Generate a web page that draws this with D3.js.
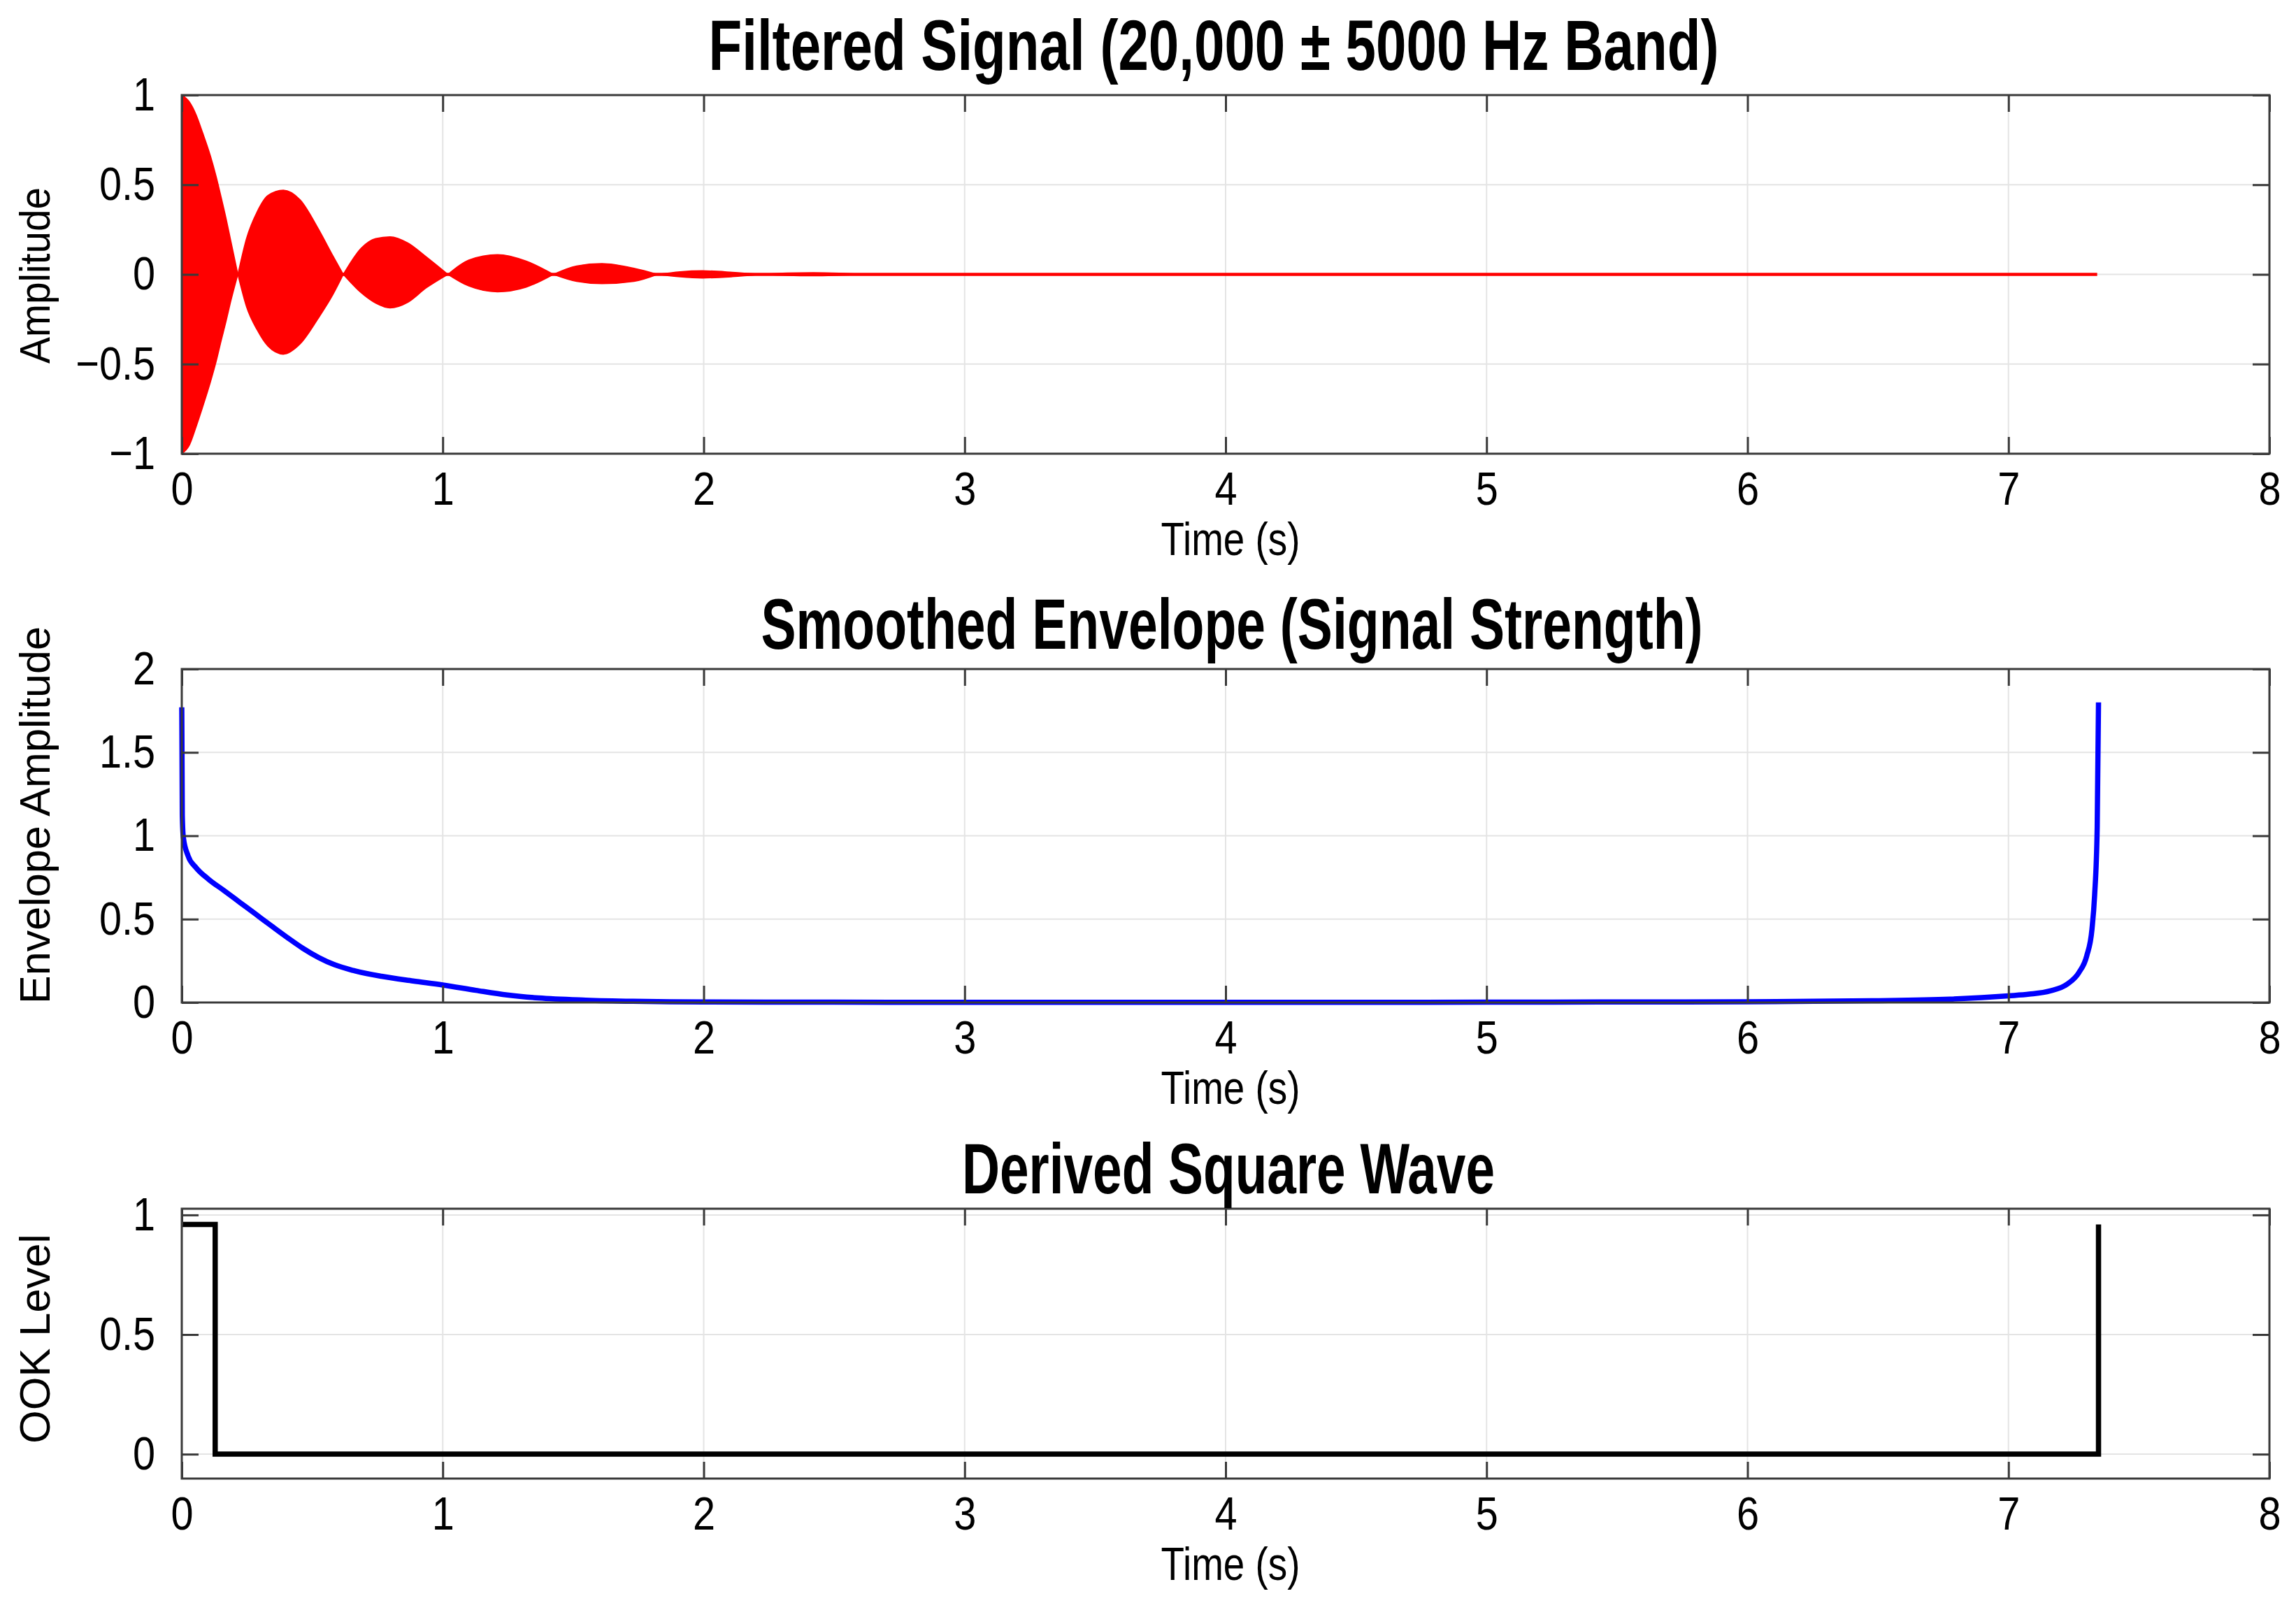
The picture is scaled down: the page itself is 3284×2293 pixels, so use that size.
<!DOCTYPE html>
<html><head><meta charset="utf-8">
<script src="https://cdn.jsdelivr.net/npm/d3@7"></script>
<style>
body{margin:0;background:#fff}
svg{display:block}
text{font-family:"Liberation Sans",Arial,Helvetica,sans-serif;fill:#000}
</style>
</head><body>
<svg id="c" width="3284" height="2293"></svg>
<script>
// ---------------- data ----------------
const xTicks = [0,1,2,3,4,5,6,7,8];
const sigYTicks = [-1,-0.5,0,0.5,1];
const envYTicks = [0,0.5,1,1.5,2];
const ookYTicks = [0,0.5,1];

// Filtered signal: upper / lower envelope of the dense 20 kHz oscillation
const sigT = [0,0.03,0.055,0.08,0.11,0.131,0.151,0.17,0.186,0.215,0.248,0.289,0.33,0.389,0.454,0.523,0.578,0.619,0.688,0.743,0.798,0.867,0.935,1.02,1.1,1.21,1.32,1.424,1.513,1.61,1.733,1.823,1.91,1.995,2.11,2.22,2.32,2.42,2.52,2.62];
const sigUpper = [1.0,0.96,0.89,0.79,0.66,0.55,0.43,0.31,0.2,0,0.2,0.35,0.44,0.47,0.415,0.255,0.107,0,0.147,0.2,0.21,0.175,0.1,0,0.08,0.11,0.074,0,0.047,0.06,0.034,0,0.015,0.02,0.012,0,0.008,0.01,0.007,0];
const sigLower = [-1.0,-0.95,-0.85,-0.74,-0.6,-0.49,-0.37,-0.26,-0.16,0,-0.18,-0.31,-0.4,-0.445,-0.387,-0.245,-0.116,0,-0.103,-0.16,-0.187,-0.155,-0.077,0,-0.065,-0.097,-0.071,0,-0.039,-0.052,-0.039,0,-0.014,-0.02,-0.013,0,-0.006,-0.008,-0.005,0];
const sigBaseT = [0,7.34];
const sigBaseV = [0,0];

// Smoothed envelope
const envT = [0,0.002,0.006,0.024,0.054,0.102,0.163,0.223,0.283,0.343,0.404,0.464,0.524,0.584,0.657,0.765,0.886,1.0,1.127,1.247,1.367,1.548,1.729,1.87,2.0,2.5,3.0,3.5,4.0,4.5,5.0,5.5,6.0,6.475,6.775,7.0,7.08,7.16,7.225,7.27,7.30,7.32,7.33,7.34,7.345];
const envV = [1.77,1.12,0.99,0.88,0.81,0.74,0.67,0.6,0.53,0.46,0.39,0.325,0.27,0.227,0.192,0.157,0.129,0.105,0.073,0.045,0.027,0.014,0.007,0.004,0.003,0.002,0.001,0.001,0.001,0.001,0.002,0.003,0.004,0.01,0.02,0.04,0.05,0.07,0.11,0.18,0.28,0.44,0.64,1.05,1.8];

// Derived square wave (step after)
const sqT = [0,0.128,7.345];
const sqV = [0.96,0,0.96];

// ---------------- layout ----------------
const svg = d3.select("#c");
const X0 = 260, X1 = 3246;
const x = d3.scaleLinear().domain([0,8]).range([X0,X1]);

const panels = [
  {top:136, bottom:649, dom:[-1,1], ticks:sigYTicks, title:"Filtered Signal (20,000 ± 5000 Hz Band)", tx:1736, ty:100, tw:1445,
   ylab:"Amplitude", ylc:394, ylw:252},
  {top:957, bottom:1434, dom:[0,2], ticks:envYTicks, title:"Smoothed Envelope (Signal Strength)", tx:1762, ty:928, tw:1347,
   ylab:"Envelope Amplitude", ylc:1166, ylw:540},
  {top:1729, bottom:2115, dom:[-0.102,1.026], ticks:ookYTicks, title:"Derived Square Wave", tx:1757, ty:1707, tw:762,
   ylab:"OOK Level", ylc:1915, ylw:300}
];

const BOX = "#3a3a3a", GRID = "#e4e4e4";

function condense(sel, f){
  sel.each(function(){
    const w = this.getComputedTextLength();
    d3.select(this).attr("textLength", w*f).attr("lengthAdjust","spacingAndGlyphs");
  });
}

panels.forEach((p,i)=>{
  const y = d3.scaleLinear().domain(p.dom).range([p.bottom,p.top]);
  p.y = y;
  const g = svg.append("g");
  // grid
  g.append("g").selectAll("line").data(xTicks).join("line")
    .attr("x1",d=>x(d)).attr("x2",d=>x(d)).attr("y1",p.top).attr("y2",p.bottom)
    .attr("stroke",GRID).attr("stroke-width",2);
  g.append("g").selectAll("line").data(p.ticks).join("line")
    .attr("x1",X0).attr("x2",X1).attr("y1",d=>y(d)).attr("y2",d=>y(d))
    .attr("stroke",GRID).attr("stroke-width",2);
  p.g = g;
});

// ---- panel 1: filtered signal ----
{
  const p = panels[0], y = p.y;
  const pts = sigT.map((t,i)=>({t, u:sigUpper[i], l:sigLower[i]}));
  // split into lobes at the zero nodes
  const segs = [];
  let s = 0;
  for (let i=1;i<pts.length;i++){
    if (pts[i].u===0 && pts[i].l===0){ segs.push(pts.slice(s,i+1)); s=i; }
  }
  const area = d3.area().x(d=>x(d.t)).y0(d=>y(d.l)).y1(d=>y(d.u)).curve(d3.curveMonotoneX);
  p.g.append("path").datum(sigBaseT.map((t,i)=>[t,sigBaseV[i]]))
    .attr("d", d3.line().x(d=>x(d[0])).y(d=>y(d[1])))
    .attr("fill","none").attr("stroke","#ff0000").attr("stroke-width",4.5);
  p.g.selectAll("path.lobe").data(segs).join("path").attr("class","lobe")
    .attr("d",area).attr("fill","#ff0000").attr("stroke","#ff0000").attr("stroke-width",1.5);
}

// ---- panel 2: envelope ----
{
  const p = panels[1], y = p.y;
  p.g.append("path").datum(envT.map((t,i)=>[t,envV[i]]))
    .attr("d", d3.line().x(d=>x(d[0])).y(d=>y(d[1])).curve(d3.curveMonotoneX))
    .attr("fill","none").attr("stroke","#0000ff").attr("stroke-width",7.5).attr("stroke-linejoin","round");
}

// ---- panel 3: square wave ----
{
  const p = panels[2], y = p.y;
  p.g.append("path").datum(sqT.map((t,i)=>[t,sqV[i]]))
    .attr("d", d3.line().x(d=>x(d[0])).y(d=>y(d[1])).curve(d3.curveStepAfter))
    .attr("fill","none").attr("stroke","#000").attr("stroke-width",7.5).attr("stroke-linejoin","miter");
}

// ---- axes, box, text ----
panels.forEach(p=>{
  const y = p.y, g = p.g;
  const fmt = d3.format("~g");
  const ax = [
    g.append("g").attr("transform",`translate(0,${p.bottom})`)
      .call(d3.axisBottom(x).tickValues(xTicks).tickSizeInner(-24).tickSizeOuter(0).tickPadding(25).tickFormat(d3.format("d"))),
    g.append("g").attr("transform",`translate(0,${p.top})`)
      .call(d3.axisTop(x).tickValues(xTicks).tickSizeInner(-24).tickSizeOuter(0).tickFormat("")),
    g.append("g").attr("transform",`translate(${X0},0)`)
      .call(d3.axisLeft(y).tickValues(p.ticks).tickSizeInner(-24).tickSizeOuter(0).tickPadding(38).tickFormat(fmt)),
    g.append("g").attr("transform",`translate(${X1},0)`)
      .call(d3.axisRight(y).tickValues(p.ticks).tickSizeInner(-24).tickSizeOuter(0).tickFormat(""))
  ];
  ax.forEach(a=>{
    a.attr("font-size",null).attr("font-family",null);
    a.select(".domain").remove();
    a.selectAll(".tick line").attr("stroke",BOX).attr("stroke-width",3);
    a.selectAll(".tick text").attr("fill","#000").attr("font-size",67).call(condense,0.86);
  });
  g.append("rect").attr("x",X0).attr("y",p.top).attr("width",X1-X0).attr("height",p.bottom-p.top)
    .attr("fill","none").attr("stroke",BOX).attr("stroke-width",3);

  // title
  g.append("text").attr("x",p.tx).attr("y",p.ty).attr("text-anchor","middle")
    .attr("font-size",102).attr("font-weight","bold")
    .attr("textLength",p.tw).attr("lengthAdjust","spacingAndGlyphs").text(p.title);
  // x label
  g.append("text").attr("x",1760).attr("y",p.bottom+145).attr("text-anchor","middle")
    .attr("font-size",67).attr("textLength",199).attr("lengthAdjust","spacingAndGlyphs").text("Time (s)");
  // y label
  g.append("text").attr("transform",`translate(71,${p.ylc}) rotate(-90)`).attr("text-anchor","middle")
    .attr("font-size",62).attr("textLength",p.ylw).attr("lengthAdjust","spacingAndGlyphs").text(p.ylab);
});
</script>
</body></html>
